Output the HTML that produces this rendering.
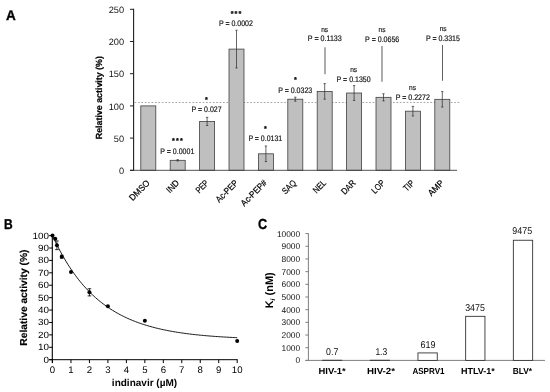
<!DOCTYPE html>
<html lang="en"><head><meta charset="utf-8"><title>Figure</title>
<style>
html,body{margin:0;padding:0;background:#fff;}
svg{display:block;filter:blur(0.3px);font-family:'Liberation Sans', sans-serif;}
</style></head><body>
<svg width="550" height="392" viewBox="0 0 550 392" font-family="Liberation Sans, sans-serif" text-rendering="geometricPrecision">
<rect x="0" y="0" width="550" height="392" fill="#ffffff"/>
<text x="6.00" y="19.50" font-size="14.0" text-anchor="start" font-weight="bold" fill="#000" textLength="9.80" lengthAdjust="spacingAndGlyphs" stroke="#000" stroke-width="0.35">A</text>
<line x1="134.60" y1="102.50" x2="460.00" y2="102.50" stroke="#9c9c9c" stroke-width="0.9" stroke-dasharray="1.7 1.7"/>
<rect x="140.80" y="105.90" width="15.00" height="64.40" fill="#bfbfbf" stroke="#404040" stroke-width="0.8"/>
<rect x="170.20" y="160.32" width="15.00" height="9.98" fill="#bfbfbf" stroke="#404040" stroke-width="0.8"/>
<line x1="177.70" y1="159.67" x2="177.70" y2="160.96" stroke="#333" stroke-width="0.75"/>
<line x1="176.55" y1="159.67" x2="178.85" y2="159.67" stroke="#333" stroke-width="0.75"/>
<line x1="176.55" y1="160.96" x2="178.85" y2="160.96" stroke="#333" stroke-width="0.75"/>
<rect x="199.60" y="121.42" width="15.00" height="48.88" fill="#bfbfbf" stroke="#404040" stroke-width="0.8"/>
<line x1="207.10" y1="117.36" x2="207.10" y2="125.48" stroke="#333" stroke-width="0.75"/>
<line x1="205.95" y1="117.36" x2="208.25" y2="117.36" stroke="#333" stroke-width="0.75"/>
<line x1="205.95" y1="125.48" x2="208.25" y2="125.48" stroke="#333" stroke-width="0.75"/>
<rect x="229.00" y="49.10" width="15.00" height="121.20" fill="#bfbfbf" stroke="#404040" stroke-width="0.8"/>
<line x1="236.50" y1="30.23" x2="236.50" y2="67.97" stroke="#333" stroke-width="0.75"/>
<line x1="235.35" y1="30.23" x2="237.65" y2="30.23" stroke="#333" stroke-width="0.75"/>
<line x1="235.35" y1="67.97" x2="237.65" y2="67.97" stroke="#333" stroke-width="0.75"/>
<rect x="258.40" y="153.81" width="15.00" height="16.49" fill="#bfbfbf" stroke="#404040" stroke-width="0.8"/>
<line x1="265.90" y1="146.02" x2="265.90" y2="161.61" stroke="#333" stroke-width="0.75"/>
<line x1="264.75" y1="146.02" x2="267.05" y2="146.02" stroke="#333" stroke-width="0.75"/>
<line x1="264.75" y1="161.61" x2="267.05" y2="161.61" stroke="#333" stroke-width="0.75"/>
<rect x="287.80" y="99.20" width="15.00" height="71.10" fill="#bfbfbf" stroke="#404040" stroke-width="0.8"/>
<line x1="295.30" y1="97.21" x2="295.30" y2="101.20" stroke="#333" stroke-width="0.75"/>
<line x1="294.15" y1="97.21" x2="296.45" y2="97.21" stroke="#333" stroke-width="0.75"/>
<line x1="294.15" y1="101.20" x2="296.45" y2="101.20" stroke="#333" stroke-width="0.75"/>
<rect x="317.20" y="91.41" width="15.00" height="78.89" fill="#bfbfbf" stroke="#404040" stroke-width="0.8"/>
<line x1="324.70" y1="83.62" x2="324.70" y2="99.20" stroke="#333" stroke-width="0.75"/>
<line x1="323.55" y1="83.62" x2="325.85" y2="83.62" stroke="#333" stroke-width="0.75"/>
<line x1="323.55" y1="99.20" x2="325.85" y2="99.20" stroke="#333" stroke-width="0.75"/>
<rect x="346.60" y="93.02" width="15.00" height="77.28" fill="#bfbfbf" stroke="#404040" stroke-width="0.8"/>
<line x1="354.10" y1="85.61" x2="354.10" y2="100.43" stroke="#333" stroke-width="0.75"/>
<line x1="352.95" y1="85.61" x2="355.25" y2="85.61" stroke="#333" stroke-width="0.75"/>
<line x1="352.95" y1="100.43" x2="355.25" y2="100.43" stroke="#333" stroke-width="0.75"/>
<rect x="376.00" y="97.33" width="15.00" height="72.97" fill="#bfbfbf" stroke="#404040" stroke-width="0.8"/>
<line x1="383.50" y1="93.79" x2="383.50" y2="100.88" stroke="#333" stroke-width="0.75"/>
<line x1="382.35" y1="93.79" x2="384.65" y2="93.79" stroke="#333" stroke-width="0.75"/>
<line x1="382.35" y1="100.88" x2="384.65" y2="100.88" stroke="#333" stroke-width="0.75"/>
<rect x="405.40" y="111.18" width="15.00" height="59.12" fill="#bfbfbf" stroke="#404040" stroke-width="0.8"/>
<line x1="412.90" y1="106.42" x2="412.90" y2="115.95" stroke="#333" stroke-width="0.75"/>
<line x1="411.75" y1="106.42" x2="414.05" y2="106.42" stroke="#333" stroke-width="0.75"/>
<line x1="411.75" y1="115.95" x2="414.05" y2="115.95" stroke="#333" stroke-width="0.75"/>
<rect x="434.80" y="99.33" width="15.00" height="70.97" fill="#bfbfbf" stroke="#404040" stroke-width="0.8"/>
<line x1="442.30" y1="91.60" x2="442.30" y2="107.06" stroke="#333" stroke-width="0.75"/>
<line x1="441.15" y1="91.60" x2="443.45" y2="91.60" stroke="#333" stroke-width="0.75"/>
<line x1="441.15" y1="107.06" x2="443.45" y2="107.06" stroke="#333" stroke-width="0.75"/>
<line x1="133.60" y1="8.80" x2="133.60" y2="170.80" stroke="#1f1f1f" stroke-width="1.1"/>
<line x1="130.00" y1="170.30" x2="457.00" y2="170.30" stroke="#404040" stroke-width="0.9"/>
<line x1="130.00" y1="170.30" x2="133.60" y2="170.30" stroke="#1f1f1f" stroke-width="1.0"/>
<text x="124.00" y="173.90" font-size="9.2" text-anchor="end" fill="#111">0</text>
<line x1="130.00" y1="138.10" x2="133.60" y2="138.10" stroke="#1f1f1f" stroke-width="1.0"/>
<text x="124.00" y="141.70" font-size="9.2" text-anchor="end" fill="#111">50</text>
<line x1="130.00" y1="105.90" x2="133.60" y2="105.90" stroke="#1f1f1f" stroke-width="1.0"/>
<text x="124.00" y="109.50" font-size="9.2" text-anchor="end" fill="#111">100</text>
<line x1="130.00" y1="73.70" x2="133.60" y2="73.70" stroke="#1f1f1f" stroke-width="1.0"/>
<text x="124.00" y="77.30" font-size="9.2" text-anchor="end" fill="#111">150</text>
<line x1="130.00" y1="41.50" x2="133.60" y2="41.50" stroke="#1f1f1f" stroke-width="1.0"/>
<text x="124.00" y="45.10" font-size="9.2" text-anchor="end" fill="#111">200</text>
<line x1="130.00" y1="9.30" x2="133.60" y2="9.30" stroke="#1f1f1f" stroke-width="1.0"/>
<text x="124.00" y="12.90" font-size="9.2" text-anchor="end" fill="#111">250</text>
<text x="102.20" y="97.70" font-size="8.9" text-anchor="middle" font-weight="bold" fill="#000" textLength="83.10" lengthAdjust="spacingAndGlyphs" transform="rotate(-90 102.20 97.70)" stroke="#000" stroke-width="0.2">Relative activity (%)</text>
<text x="150.40" y="183.60" font-size="9.0" text-anchor="end" fill="#000" textLength="24.90" lengthAdjust="spacingAndGlyphs" transform="rotate(-45 150.40 183.60)" stroke="#000" stroke-width="0.2">DMSO</text>
<text x="179.80" y="183.60" font-size="9.0" text-anchor="end" fill="#000" textLength="14.10" lengthAdjust="spacingAndGlyphs" transform="rotate(-45 179.80 183.60)" stroke="#000" stroke-width="0.2">IND</text>
<text x="209.20" y="183.60" font-size="9.0" text-anchor="end" fill="#000" textLength="14.20" lengthAdjust="spacingAndGlyphs" transform="rotate(-45 209.20 183.60)" stroke="#000" stroke-width="0.2">PEP</text>
<text x="238.60" y="183.60" font-size="9.0" text-anchor="end" fill="#000" textLength="27.30" lengthAdjust="spacingAndGlyphs" transform="rotate(-45 238.60 183.60)" stroke="#000" stroke-width="0.2">Ac-PEP</text>
<text x="267.40" y="183.60" font-size="9.0" text-anchor="end" fill="#000" textLength="32.60" lengthAdjust="spacingAndGlyphs" transform="rotate(-45 267.40 183.60)" stroke="#000" stroke-width="0.2">Ac-PEP#</text>
<text x="296.80" y="183.60" font-size="9.0" text-anchor="end" fill="#000" textLength="15.90" lengthAdjust="spacingAndGlyphs" transform="rotate(-45 296.80 183.60)" stroke="#000" stroke-width="0.2">SAQ</text>
<text x="326.80" y="183.60" font-size="9.0" text-anchor="end" fill="#000" textLength="14.50" lengthAdjust="spacingAndGlyphs" transform="rotate(-45 326.80 183.60)" stroke="#000" stroke-width="0.2">NEL</text>
<text x="356.20" y="183.60" font-size="9.0" text-anchor="end" fill="#000" textLength="16.20" lengthAdjust="spacingAndGlyphs" transform="rotate(-45 356.20 183.60)" stroke="#000" stroke-width="0.2">DAR</text>
<text x="385.60" y="183.60" font-size="9.0" text-anchor="end" fill="#000" textLength="14.90" lengthAdjust="spacingAndGlyphs" transform="rotate(-45 385.60 183.60)" stroke="#000" stroke-width="0.2">LOP</text>
<text x="415.00" y="183.60" font-size="9.0" text-anchor="end" fill="#000" textLength="11.70" lengthAdjust="spacingAndGlyphs" transform="rotate(-45 415.00 183.60)" stroke="#000" stroke-width="0.2">TIP</text>
<text x="444.40" y="183.60" font-size="9.0" text-anchor="end" fill="#000" textLength="18.10" lengthAdjust="spacingAndGlyphs" transform="rotate(-45 444.40 183.60)" stroke="#000" stroke-width="0.2">AMP</text>
<text x="177.95" y="143.40" font-size="7.2" text-anchor="middle" font-weight="bold" fill="#111" letter-spacing="1.1" stroke="#111" stroke-width="0.35">***</text>
<text x="177.30" y="153.80" font-size="8.0" text-anchor="middle" fill="#111" textLength="34.00" lengthAdjust="spacingAndGlyphs" stroke="#111" stroke-width="0.18">P = 0.0001</text>
<text x="207.05" y="101.50" font-size="7.2" text-anchor="middle" font-weight="bold" fill="#111" letter-spacing="1.1" stroke="#111" stroke-width="0.35">*</text>
<text x="206.60" y="112.20" font-size="8.0" text-anchor="middle" fill="#111" textLength="30.00" lengthAdjust="spacingAndGlyphs" stroke="#111" stroke-width="0.18">P = 0.027</text>
<text x="236.55" y="15.60" font-size="7.2" text-anchor="middle" font-weight="bold" fill="#111" letter-spacing="1.1" stroke="#111" stroke-width="0.35">***</text>
<text x="235.90" y="25.90" font-size="8.0" text-anchor="middle" fill="#111" textLength="34.00" lengthAdjust="spacingAndGlyphs" stroke="#111" stroke-width="0.18">P = 0.0002</text>
<text x="265.85" y="131.20" font-size="7.2" text-anchor="middle" font-weight="bold" fill="#111" letter-spacing="1.1" stroke="#111" stroke-width="0.35">*</text>
<text x="265.30" y="140.90" font-size="8.0" text-anchor="middle" fill="#111" textLength="33.80" lengthAdjust="spacingAndGlyphs" stroke="#111" stroke-width="0.18">P = 0.0131</text>
<text x="295.95" y="81.50" font-size="7.2" text-anchor="middle" font-weight="bold" fill="#111" letter-spacing="1.1" stroke="#111" stroke-width="0.35">*</text>
<text x="295.20" y="92.70" font-size="8.0" text-anchor="middle" fill="#111" textLength="34.00" lengthAdjust="spacingAndGlyphs" stroke="#111" stroke-width="0.18">P = 0.0323</text>
<text x="324.70" y="31.50" font-size="7.5" text-anchor="middle" fill="#111" textLength="7.00" lengthAdjust="spacingAndGlyphs" stroke="#111" stroke-width="0.15">ns</text>
<text x="324.80" y="41.20" font-size="8.0" text-anchor="middle" fill="#111" textLength="34.00" lengthAdjust="spacingAndGlyphs" stroke="#111" stroke-width="0.18">P = 0.1133</text>
<line x1="325.00" y1="47.30" x2="325.00" y2="74.20" stroke="#808080" stroke-width="1.3"/>
<text x="353.70" y="71.80" font-size="7.5" text-anchor="middle" fill="#111" textLength="7.00" lengthAdjust="spacingAndGlyphs" stroke="#111" stroke-width="0.15">ns</text>
<text x="353.60" y="81.80" font-size="8.0" text-anchor="middle" fill="#111" textLength="34.00" lengthAdjust="spacingAndGlyphs" stroke="#111" stroke-width="0.18">P = 0.1350</text>
<text x="382.10" y="31.50" font-size="7.5" text-anchor="middle" fill="#111" textLength="7.00" lengthAdjust="spacingAndGlyphs" stroke="#111" stroke-width="0.15">ns</text>
<text x="382.20" y="41.50" font-size="8.0" text-anchor="middle" fill="#111" textLength="34.20" lengthAdjust="spacingAndGlyphs" stroke="#111" stroke-width="0.18">P = 0.0656</text>
<line x1="382.00" y1="46.00" x2="382.00" y2="81.80" stroke="#808080" stroke-width="1.3"/>
<text x="412.60" y="89.70" font-size="7.5" text-anchor="middle" fill="#111" textLength="7.00" lengthAdjust="spacingAndGlyphs" stroke="#111" stroke-width="0.15">ns</text>
<text x="412.80" y="100.00" font-size="8.0" text-anchor="middle" fill="#111" textLength="34.20" lengthAdjust="spacingAndGlyphs" stroke="#111" stroke-width="0.18">P = 0.2272</text>
<text x="443.20" y="31.10" font-size="7.5" text-anchor="middle" fill="#111" textLength="7.00" lengthAdjust="spacingAndGlyphs" stroke="#111" stroke-width="0.15">ns</text>
<text x="442.90" y="41.10" font-size="8.0" text-anchor="middle" fill="#111" textLength="34.00" lengthAdjust="spacingAndGlyphs" stroke="#111" stroke-width="0.18">P = 0.3315</text>
<line x1="442.50" y1="45.00" x2="442.50" y2="80.80" stroke="#4d4d4d" stroke-width="0.9"/>
<text x="3.90" y="228.90" font-size="14.2" text-anchor="start" font-weight="bold" fill="#000" textLength="8.70" lengthAdjust="spacingAndGlyphs" stroke="#000" stroke-width="0.35">B</text>
<line x1="52.30" y1="235.10" x2="52.30" y2="363.10" stroke="#000" stroke-width="1.1"/>
<line x1="49.10" y1="359.70" x2="237.70" y2="359.70" stroke="#000" stroke-width="1.0"/>
<line x1="49.10" y1="359.70" x2="52.50" y2="359.70" stroke="#000" stroke-width="1.0"/>
<text x="48.90" y="362.65" font-size="9.0" text-anchor="end" fill="#000" textLength="5.50" lengthAdjust="spacingAndGlyphs">0</text>
<line x1="49.10" y1="347.29" x2="52.50" y2="347.29" stroke="#000" stroke-width="1.0"/>
<text x="48.90" y="350.24" font-size="9.0" text-anchor="end" fill="#000" textLength="11.00" lengthAdjust="spacingAndGlyphs">10</text>
<line x1="49.10" y1="334.88" x2="52.50" y2="334.88" stroke="#000" stroke-width="1.0"/>
<text x="48.90" y="337.83" font-size="9.0" text-anchor="end" fill="#000" textLength="11.00" lengthAdjust="spacingAndGlyphs">20</text>
<line x1="49.10" y1="322.47" x2="52.50" y2="322.47" stroke="#000" stroke-width="1.0"/>
<text x="48.90" y="325.42" font-size="9.0" text-anchor="end" fill="#000" textLength="11.00" lengthAdjust="spacingAndGlyphs">30</text>
<line x1="49.10" y1="310.06" x2="52.50" y2="310.06" stroke="#000" stroke-width="1.0"/>
<text x="48.90" y="313.01" font-size="9.0" text-anchor="end" fill="#000" textLength="11.00" lengthAdjust="spacingAndGlyphs">40</text>
<line x1="49.10" y1="297.65" x2="52.50" y2="297.65" stroke="#000" stroke-width="1.0"/>
<text x="48.90" y="300.60" font-size="9.0" text-anchor="end" fill="#000" textLength="11.00" lengthAdjust="spacingAndGlyphs">50</text>
<line x1="49.10" y1="285.24" x2="52.50" y2="285.24" stroke="#000" stroke-width="1.0"/>
<text x="48.90" y="288.19" font-size="9.0" text-anchor="end" fill="#000" textLength="11.00" lengthAdjust="spacingAndGlyphs">60</text>
<line x1="49.10" y1="272.83" x2="52.50" y2="272.83" stroke="#000" stroke-width="1.0"/>
<text x="48.90" y="275.78" font-size="9.0" text-anchor="end" fill="#000" textLength="11.00" lengthAdjust="spacingAndGlyphs">70</text>
<line x1="49.10" y1="260.42" x2="52.50" y2="260.42" stroke="#000" stroke-width="1.0"/>
<text x="48.90" y="263.37" font-size="9.0" text-anchor="end" fill="#000" textLength="11.00" lengthAdjust="spacingAndGlyphs">80</text>
<line x1="49.10" y1="248.01" x2="52.50" y2="248.01" stroke="#000" stroke-width="1.0"/>
<text x="48.90" y="250.96" font-size="9.0" text-anchor="end" fill="#000" textLength="11.00" lengthAdjust="spacingAndGlyphs">90</text>
<line x1="49.10" y1="235.60" x2="52.50" y2="235.60" stroke="#000" stroke-width="1.0"/>
<text x="48.90" y="238.55" font-size="9.0" text-anchor="end" fill="#000" textLength="16.50" lengthAdjust="spacingAndGlyphs">100</text>
<line x1="52.50" y1="359.70" x2="52.50" y2="363.10" stroke="#000" stroke-width="1.0"/>
<text x="52.50" y="373.00" font-size="9.6" text-anchor="middle" fill="#000">0</text>
<line x1="70.97" y1="359.70" x2="70.97" y2="363.10" stroke="#000" stroke-width="1.0"/>
<text x="70.97" y="373.00" font-size="9.6" text-anchor="middle" fill="#000">1</text>
<line x1="89.44" y1="359.70" x2="89.44" y2="363.10" stroke="#000" stroke-width="1.0"/>
<text x="89.44" y="373.00" font-size="9.6" text-anchor="middle" fill="#000">2</text>
<line x1="107.91" y1="359.70" x2="107.91" y2="363.10" stroke="#000" stroke-width="1.0"/>
<text x="107.91" y="373.00" font-size="9.6" text-anchor="middle" fill="#000">3</text>
<line x1="126.38" y1="359.70" x2="126.38" y2="363.10" stroke="#000" stroke-width="1.0"/>
<text x="126.38" y="373.00" font-size="9.6" text-anchor="middle" fill="#000">4</text>
<line x1="144.85" y1="359.70" x2="144.85" y2="363.10" stroke="#000" stroke-width="1.0"/>
<text x="144.85" y="373.00" font-size="9.6" text-anchor="middle" fill="#000">5</text>
<line x1="163.32" y1="359.70" x2="163.32" y2="363.10" stroke="#000" stroke-width="1.0"/>
<text x="163.32" y="373.00" font-size="9.6" text-anchor="middle" fill="#000">6</text>
<line x1="181.79" y1="359.70" x2="181.79" y2="363.10" stroke="#000" stroke-width="1.0"/>
<text x="181.79" y="373.00" font-size="9.6" text-anchor="middle" fill="#000">7</text>
<line x1="200.26" y1="359.70" x2="200.26" y2="363.10" stroke="#000" stroke-width="1.0"/>
<text x="200.26" y="373.00" font-size="9.6" text-anchor="middle" fill="#000">8</text>
<line x1="218.73" y1="359.70" x2="218.73" y2="363.10" stroke="#000" stroke-width="1.0"/>
<text x="218.73" y="373.00" font-size="9.6" text-anchor="middle" fill="#000">9</text>
<line x1="237.20" y1="359.70" x2="237.20" y2="363.10" stroke="#000" stroke-width="1.0"/>
<text x="237.20" y="373.00" font-size="9.6" text-anchor="middle" fill="#000">10</text>
<text x="27.30" y="297.60" font-size="10.1" text-anchor="middle" font-weight="bold" fill="#000" textLength="96.10" lengthAdjust="spacingAndGlyphs" transform="rotate(-90 27.30 297.60)" stroke="#000" stroke-width="0.15">Relative activity (%)</text>
<text x="144.50" y="386.00" font-size="10.0" text-anchor="middle" font-weight="bold" fill="#000" textLength="65.30" lengthAdjust="spacingAndGlyphs">indinavir (µM)</text>
<polyline points="52.50,235.60 54.04,238.92 55.58,242.13 57.12,245.24 58.66,248.25 60.20,251.16 61.73,253.98 63.27,256.71 64.81,259.36 66.35,261.92 67.89,264.40 69.43,266.80 70.97,269.12 72.51,271.37 74.05,273.55 75.59,275.66 77.13,277.70 78.67,279.68 80.20,281.59 81.74,283.45 83.28,285.24 84.82,286.98 86.36,288.66 87.90,290.29 89.44,291.87 90.98,293.39 92.52,294.87 94.06,296.30 95.60,297.69 97.14,299.03 98.67,300.33 100.21,301.58 101.75,302.80 103.29,303.98 104.83,305.12 106.37,306.23 107.91,307.30 109.45,308.33 110.99,309.33 112.53,310.30 114.07,311.24 115.61,312.15 117.14,313.04 118.68,313.89 120.22,314.71 121.76,315.51 123.30,316.29 124.84,317.04 126.38,317.76 127.92,318.47 129.46,319.15 131.00,319.80 132.54,320.44 134.08,321.06 135.62,321.66 137.15,322.24 138.69,322.80 140.23,323.34 141.77,323.86 143.31,324.37 144.85,324.86 146.39,325.34 147.93,325.80 149.47,326.25 151.01,326.68 152.55,327.10 154.08,327.51 155.62,327.90 157.16,328.28 158.70,328.65 160.24,329.00 161.78,329.35 163.32,329.68 164.86,330.00 166.40,330.32 167.94,330.62 169.48,330.91 171.02,331.20 172.56,331.47 174.09,331.74 175.63,332.00 177.17,332.25 178.71,332.49 180.25,332.72 181.79,332.95 183.33,333.17 184.87,333.38 186.41,333.59 187.95,333.79 189.49,333.98 191.03,334.17 192.56,334.35 194.10,334.52 195.64,334.69 197.18,334.85 198.72,335.01 200.26,335.17 201.80,335.32 203.34,335.46 204.88,335.60 206.42,335.73 207.96,335.86 209.49,335.99 211.03,336.11 212.57,336.23 214.11,336.35 215.65,336.46 217.19,336.57 218.73,336.67 220.27,336.77 221.81,336.87 223.35,336.96 224.89,337.06 226.43,337.14 227.96,337.23 229.50,337.31 231.04,337.39 232.58,337.47 234.12,337.55 235.66,337.62 237.20,337.69" fill="none" stroke="#000" stroke-width="0.9"/>
<circle cx="52.50" cy="235.60" r="2.0" fill="#000"/>
<line x1="55.27" y1="238.39" x2="55.27" y2="239.01" stroke="#000" stroke-width="0.8"/>
<line x1="53.47" y1="238.39" x2="57.07" y2="238.39" stroke="#000" stroke-width="0.8"/>
<line x1="53.47" y1="239.01" x2="57.07" y2="239.01" stroke="#000" stroke-width="0.8"/>
<circle cx="55.27" cy="238.70" r="2.0" fill="#000"/>
<line x1="56.93" y1="240.94" x2="56.93" y2="249.62" stroke="#000" stroke-width="0.8"/>
<line x1="55.13" y1="240.94" x2="58.73" y2="240.94" stroke="#000" stroke-width="0.8"/>
<line x1="55.13" y1="249.62" x2="58.73" y2="249.62" stroke="#000" stroke-width="0.8"/>
<circle cx="56.93" cy="245.28" r="2.0" fill="#000"/>
<line x1="61.73" y1="255.21" x2="61.73" y2="258.19" stroke="#000" stroke-width="0.8"/>
<line x1="59.94" y1="255.21" x2="63.53" y2="255.21" stroke="#000" stroke-width="0.8"/>
<line x1="59.94" y1="258.19" x2="63.53" y2="258.19" stroke="#000" stroke-width="0.8"/>
<circle cx="61.73" cy="256.70" r="2.0" fill="#000"/>
<circle cx="70.97" cy="271.96" r="2.0" fill="#000"/>
<line x1="89.44" y1="288.71" x2="89.44" y2="295.91" stroke="#000" stroke-width="0.8"/>
<line x1="87.64" y1="288.71" x2="91.24" y2="288.71" stroke="#000" stroke-width="0.8"/>
<line x1="87.64" y1="295.91" x2="91.24" y2="295.91" stroke="#000" stroke-width="0.8"/>
<circle cx="89.44" cy="292.31" r="2.0" fill="#000"/>
<circle cx="107.91" cy="306.21" r="2.0" fill="#000"/>
<circle cx="144.85" cy="320.73" r="2.0" fill="#000"/>
<circle cx="237.20" cy="341.08" r="2.0" fill="#000"/>
<text x="258.00" y="229.40" font-size="14.6" text-anchor="start" font-weight="bold" fill="#000" textLength="9.20" lengthAdjust="spacingAndGlyphs" stroke="#000" stroke-width="0.35">C</text>
<line x1="308.40" y1="233.20" x2="308.40" y2="360.80" stroke="#7f7f7f" stroke-width="1.0"/>
<line x1="305.40" y1="360.40" x2="308.40" y2="360.40" stroke="#7f7f7f" stroke-width="1.0"/>
<text x="300.20" y="363.30" font-size="8.4" text-anchor="end" fill="#111">0</text>
<line x1="305.40" y1="347.72" x2="308.40" y2="347.72" stroke="#7f7f7f" stroke-width="1.0"/>
<text x="300.20" y="350.62" font-size="8.4" text-anchor="end" fill="#111">1000</text>
<line x1="305.40" y1="335.04" x2="308.40" y2="335.04" stroke="#7f7f7f" stroke-width="1.0"/>
<text x="300.20" y="337.94" font-size="8.4" text-anchor="end" fill="#111">2000</text>
<line x1="305.40" y1="322.36" x2="308.40" y2="322.36" stroke="#7f7f7f" stroke-width="1.0"/>
<text x="300.20" y="325.26" font-size="8.4" text-anchor="end" fill="#111">3000</text>
<line x1="305.40" y1="309.68" x2="308.40" y2="309.68" stroke="#7f7f7f" stroke-width="1.0"/>
<text x="300.20" y="312.58" font-size="8.4" text-anchor="end" fill="#111">4000</text>
<line x1="305.40" y1="297.00" x2="308.40" y2="297.00" stroke="#7f7f7f" stroke-width="1.0"/>
<text x="300.20" y="299.90" font-size="8.4" text-anchor="end" fill="#111">5000</text>
<line x1="305.40" y1="284.32" x2="308.40" y2="284.32" stroke="#7f7f7f" stroke-width="1.0"/>
<text x="300.20" y="287.22" font-size="8.4" text-anchor="end" fill="#111">6000</text>
<line x1="305.40" y1="271.64" x2="308.40" y2="271.64" stroke="#7f7f7f" stroke-width="1.0"/>
<text x="300.20" y="274.54" font-size="8.4" text-anchor="end" fill="#111">7000</text>
<line x1="305.40" y1="258.96" x2="308.40" y2="258.96" stroke="#7f7f7f" stroke-width="1.0"/>
<text x="300.20" y="261.86" font-size="8.4" text-anchor="end" fill="#111">8000</text>
<line x1="305.40" y1="246.28" x2="308.40" y2="246.28" stroke="#7f7f7f" stroke-width="1.0"/>
<text x="300.20" y="249.18" font-size="8.4" text-anchor="end" fill="#111">9000</text>
<line x1="305.40" y1="233.60" x2="308.40" y2="233.60" stroke="#7f7f7f" stroke-width="1.0"/>
<text x="300.20" y="236.50" font-size="8.4" text-anchor="end" fill="#111">10000</text>
<line x1="305.40" y1="360.40" x2="545.00" y2="360.40" stroke="#7f7f7f" stroke-width="1.0"/>
<line x1="322.15" y1="360.30" x2="342.25" y2="360.30" stroke="#333" stroke-width="1.0"/>
<text x="332.20" y="355.19" font-size="9.9" text-anchor="middle" fill="#111" textLength="12.20" lengthAdjust="spacingAndGlyphs">0.7</text>
<text x="332.10" y="373.80" font-size="8.8" text-anchor="middle" font-weight="bold" fill="#000" textLength="27.30" lengthAdjust="spacingAndGlyphs">HIV-1*</text>
<line x1="369.85" y1="360.30" x2="389.95" y2="360.30" stroke="#333" stroke-width="1.0"/>
<text x="381.30" y="354.58" font-size="9.9" text-anchor="middle" fill="#111" textLength="11.80" lengthAdjust="spacingAndGlyphs">1.3</text>
<text x="381.00" y="373.80" font-size="8.8" text-anchor="middle" font-weight="bold" fill="#000" textLength="28.00" lengthAdjust="spacingAndGlyphs">HIV-2*</text>
<rect x="417.95" y="352.92" width="19.30" height="7.48" fill="#fff" stroke="#333" stroke-width="0.9"/>
<text x="428.10" y="348.02" font-size="9.9" text-anchor="middle" fill="#111" textLength="15.00" lengthAdjust="spacingAndGlyphs">619</text>
<text x="428.50" y="373.80" font-size="8.8" text-anchor="middle" font-weight="bold" fill="#000" textLength="32.20" lengthAdjust="spacingAndGlyphs">ASPRV1</text>
<rect x="465.65" y="316.34" width="19.30" height="44.06" fill="#fff" stroke="#333" stroke-width="0.9"/>
<text x="475.00" y="310.74" font-size="9.9" text-anchor="middle" fill="#111" textLength="19.60" lengthAdjust="spacingAndGlyphs">3475</text>
<text x="477.90" y="373.80" font-size="8.8" text-anchor="middle" font-weight="bold" fill="#000" textLength="33.90" lengthAdjust="spacingAndGlyphs">HTLV-1*</text>
<rect x="513.35" y="240.26" width="19.30" height="120.14" fill="#fff" stroke="#333" stroke-width="0.9"/>
<text x="522.20" y="234.16" font-size="9.9" text-anchor="middle" fill="#111" textLength="19.80" lengthAdjust="spacingAndGlyphs">9475</text>
<text x="522.40" y="373.80" font-size="8.8" text-anchor="middle" font-weight="bold" fill="#000" textLength="19.30" lengthAdjust="spacingAndGlyphs">BLV*</text>
<text x="272.8" y="290.3" font-size="11.0" font-weight="bold" fill="#000" text-anchor="middle" transform="rotate(-90 272.8 290.3)">K<tspan font-size="6.8" font-style="italic" dy="1.8">i</tspan><tspan dy="-1.8"> (nM)</tspan></text>
</svg>
</body></html>
